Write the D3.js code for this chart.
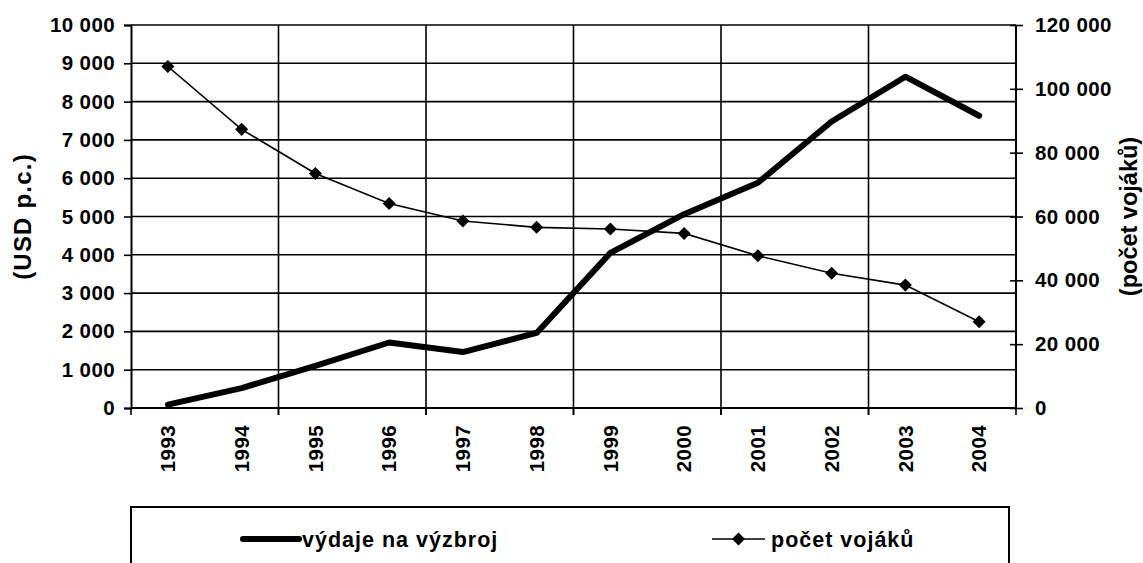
<!DOCTYPE html>
<html>
<head>
<meta charset="utf-8">
<script src="https://cdn.jsdelivr.net/npm/d3@7"></script>
<style>
  body { margin: 0; background: #fff; }
  text { font-family: "Liberation Sans", Arial, sans-serif; font-weight: bold; fill: #000; }
</style>
</head>
<body>
<div id="chart"></div>
<script>
var years = ["1993", "1994", "1995", "1996", "1997", "1998", "1999", "2000", "2001", "2002", "2003", "2004"]
var vydaje = [90, 520, 1100, 1710, 1460, 1960, 4050, 5060, 5880, 7480, 8650, 7630]
var vojaci = [107000, 87300, 73500, 64100, 58600, 56600, 56100, 54700, 47700, 42200, 38500, 27000]
var leftTicks = [0, 1000, 2000, 3000, 4000, 5000, 6000, 7000, 8000, 9000, 10000]
var rightTicks = [0, 20000, 40000, 60000, 80000, 100000, 120000]
var seriesNames = ["výdaje na výzbroj", "počet vojáků"]

let width = 1143, height = 563
let pLeft = 131, pRight = 1016, pTop = 25, pBottom = 408

let locale = d3.formatLocale({ decimal: ",", thousands: " ", grouping: [3], currency: ["", ""] })
let fmt = locale.format(",")

let svg = d3.select("#chart").append("svg")
    .attr("width", width)
    .attr("height", height)

let x = d3.scaleBand().domain(years).range([pLeft, pRight]).padding(0)
let yL = d3.scaleLinear().domain([0, 10000]).range([pBottom, pTop])
let yR = d3.scaleLinear().domain([0, 120000]).range([pBottom, pTop])

// horizontal grid
svg.append("g").selectAll("line")
    .data(leftTicks)
    .enter().append("line")
    .attr("x1", pLeft).attr("x2", pRight)
    .attr("y1", d => yL(d)).attr("y2", d => yL(d))
    .attr("stroke", "#000").attr("stroke-width", 1.6)

// vertical grid every second category
let edges = years.filter((d, i) => i % 2 == 0 && i > 0)
svg.append("g").selectAll("line")
    .data(edges)
    .enter().append("line")
    .attr("x1", d => x(d)).attr("x2", d => x(d))
    .attr("y1", pTop).attr("y2", pBottom + 7)
    .attr("stroke", "#000").attr("stroke-width", 1.6)

// left axis
let gL = svg.append("g")
    .attr("transform", "translate(" + pLeft + ",0)")
    .call(d3.axisLeft(yL).tickValues(leftTicks).tickFormat(fmt).tickSize(7).tickPadding(9))
gL.select(".domain").attr("stroke-width", 2)
gL.selectAll(".tick line").attr("stroke-width", 1.6)
gL.selectAll("text").style("font-size", "20.5px").style("letter-spacing", "0.4px")
gL.attr("font-family", null).attr("font-size", null)

// right axis, ticks crossing the line
let gR = svg.append("g")
    .attr("transform", "translate(" + (pRight - 6) + ",0)")
    .call(d3.axisRight(yR).tickValues(rightTicks).tickFormat(fmt).tickSize(13).tickPadding(12))
gR.select(".domain").remove()
gR.selectAll(".tick line").attr("stroke-width", 1.6)
gR.selectAll("text").style("font-size", "20.5px").style("letter-spacing", "0.4px")
gR.attr("font-family", null).attr("font-size", null)
svg.append("line")
    .attr("x1", pRight).attr("x2", pRight)
    .attr("y1", pTop).attr("y2", pBottom)
    .attr("stroke", "#000").attr("stroke-width", 2)

// bottom axis
svg.append("line")
    .attr("x1", pLeft).attr("x2", pRight)
    .attr("y1", pBottom).attr("y2", pBottom)
    .attr("stroke", "#000").attr("stroke-width", 2)
svg.append("g").selectAll("line")
    .data(years.filter((d, i) => i % 2 == 0))
    .enter().append("line")
    .attr("x1", d => x(d)).attr("x2", d => x(d))
    .attr("y1", pBottom).attr("y2", pBottom + 7)
    .attr("stroke", "#000").attr("stroke-width", 1.6)
svg.append("line")
    .attr("x1", pRight).attr("x2", pRight)
    .attr("y1", pBottom).attr("y2", pBottom + 7)
    .attr("stroke", "#000").attr("stroke-width", 1.6)

svg.append("g").selectAll("text")
    .data(years)
    .enter().append("text")
    .attr("transform", d => "translate(" + (x(d) + x.bandwidth() / 2) + "," + (pBottom + 17) + ") rotate(-90)")
    .attr("text-anchor", "end")
    .attr("dy", "0.35em")
    .style("font-size", "20.5px")
    .style("letter-spacing", "0.4px")
    .text(d => d)

// axis titles
svg.append("text")
    .attr("transform", "translate(23," + ((pTop + pBottom) / 2) + ") rotate(-90)")
    .attr("text-anchor", "middle")
    .attr("dy", "0.35em")
    .style("font-size", "24px")
    .style("letter-spacing", "1.2px")
    .text("(USD p.c.)")
svg.append("text")
    .attr("transform", "translate(1129," + ((pTop + pBottom) / 2) + ") rotate(-90)")
    .attr("text-anchor", "middle")
    .attr("dy", "0.35em")
    .style("font-size", "23.5px")
    .text("(počet vojáků)")

let cx = d => x(d) + x.bandwidth() / 2

// soldiers line
let lineR = d3.line().x((d, i) => cx(years[i])).y(d => yR(d))
svg.append("path")
    .datum(vojaci)
    .attr("d", lineR)
    .attr("fill", "none").attr("stroke", "#000").attr("stroke-width", 1.6)

let diamond = d3.symbol().type(d3.symbolSquare).size(85)
svg.append("g").selectAll("path")
    .data(vojaci)
    .enter().append("path")
    .attr("d", diamond)
    .attr("transform", (d, i) => "translate(" + cx(years[i]) + "," + yR(d) + ") rotate(45)")
    .attr("fill", "#000")

// spending line
let lineL = d3.line().x((d, i) => cx(years[i])).y(d => yL(d))
svg.append("path")
    .datum(vydaje)
    .attr("d", lineL)
    .attr("fill", "none").attr("stroke", "#000").attr("stroke-width", 6)
    .attr("stroke-linejoin", "round").attr("stroke-linecap", "round")

// legend
svg.append("rect")
    .attr("x", 131).attr("y", 507)
    .attr("width", 878).attr("height", 80)
    .attr("fill", "#fff").attr("stroke", "#000").attr("stroke-width", 2)

svg.append("line")
    .attr("x1", 243).attr("x2", 299)
    .attr("y1", 539).attr("y2", 539)
    .attr("stroke", "#000").attr("stroke-width", 6).attr("stroke-linecap", "round")
svg.append("text")
    .attr("x", 302).attr("y", 539).attr("dy", "0.35em")
    .style("font-size", "21.5px")
    .style("letter-spacing", "1px")
    .text(seriesNames[0])

svg.append("line")
    .attr("x1", 712).attr("x2", 765)
    .attr("y1", 539).attr("y2", 539)
    .attr("stroke", "#000").attr("stroke-width", 1.6)
svg.append("path")
    .attr("d", diamond)
    .attr("transform", "translate(738.5,539) rotate(45)")
    .attr("fill", "#000")
svg.append("text")
    .attr("x", 771).attr("y", 539).attr("dy", "0.35em")
    .style("font-size", "21.5px")
    .style("letter-spacing", "1px")
    .text(seriesNames[1])
</script>
</body>
</html>
